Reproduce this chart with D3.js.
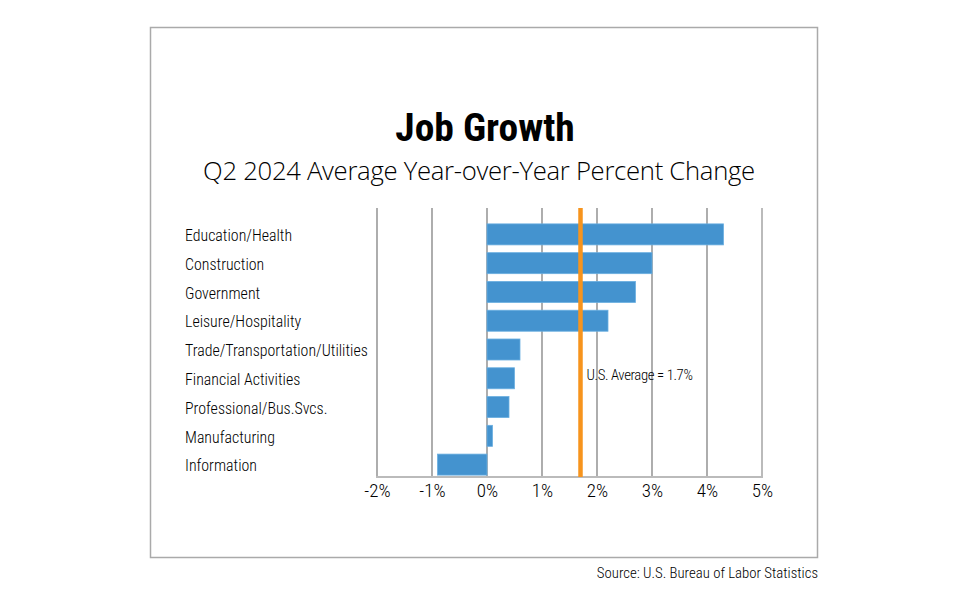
<!DOCTYPE html>
<html><head><meta charset="utf-8">
<script src="https://cdn.jsdelivr.net/npm/d3@7"></script>
<style>body{margin:0;background:#fff}svg{display:block}</style>
</head><body>
<svg id="c" width="967" height="599"></svg>
<script>
const categories = ["Education/Health","Construction","Government","Leisure/Hospitality","Trade/Transportation/Utilities","Financial Activities","Professional/Bus.Svcs.","Manufacturing","Information"];
const values = [4.3, 3.0, 2.7, 2.2, 0.6, 0.5, 0.4, 0.1, -0.9];
const tickValues = [-2, -1, 0, 1, 2, 3, 4, 5];
const usAverage = 1.7;
const title = "Job Growth";
const subtitle = "Q2 2024 Average Year-over-Year Percent Change";
const avgLabel = "U.S. Average = 1.7%";
const source = "Source: U.S. Bureau of Labor Statistics";

const narrow = "'Liberation Sans Narrow','Roboto Condensed','DejaVu Sans Condensed',sans-serif";
const svg = d3.select("#c");

svg.append("rect").attr("x",150.5).attr("y",27.5).attr("width",667).attr("height",530)
  .attr("fill","none").attr("stroke","#aaa").attr("stroke-width",1.5);

const x = d3.scaleLinear().domain([-2,5]).range([377,762]);
const y = d3.scaleBand().domain(categories).range([220,479]).paddingInner(0.27).paddingOuter(0.135);
const gridTop = 208, gridBottom = 477;

// gridlines
svg.append("g").selectAll("line").data(tickValues).join("line")
  .attr("x1",d=>x(d)).attr("x2",d=>x(d)).attr("y1",gridTop).attr("y2",gridBottom)
  .attr("stroke",d=>d===5?"#bbb":"#777").attr("stroke-width",d=>d===5?2:1.2);

// bars
svg.append("g").selectAll("rect").data(values).join("rect")
  .attr("x",d=>x(Math.min(0,d))).attr("width",d=>Math.abs(x(d)-x(0)))
  .attr("y",(d,i)=>y(categories[i])).attr("height",y.bandwidth())
  .attr("fill","#4493cf").attr("stroke","#6aaee0").attr("stroke-width",0.8);

// bottom axis line
svg.append("line").attr("x1",x(-2)-1).attr("x2",x(5)+1).attr("y1",gridBottom).attr("y2",gridBottom)
  .attr("stroke","#bbb").attr("stroke-width",2);

// axis labels
const xAxis = d3.axisBottom(x).tickValues(tickValues).tickSize(0).tickPadding(7).tickFormat(d=>d+"%");
const ax = svg.append("g").attr("transform",`translate(0,${gridBottom})`).call(xAxis);
ax.select(".domain").remove();
ax.selectAll("text").attr("font-family",narrow).attr("font-size",19).attr("font-weight",300).attr("fill","#000");

// average line
svg.append("line").attr("x1",x(usAverage)).attr("x2",x(usAverage)).attr("y1",gridTop).attr("y2",gridBottom)
  .attr("stroke","#f7941d").attr("stroke-width",4.5);
svg.append("text").attr("x",x(usAverage)+6).attr("y",380).attr("font-family",narrow)
  .attr("font-size",14.8).attr("font-weight",300).attr("letter-spacing",-0.4).attr("fill","#000").text(avgLabel);

// category labels
svg.append("g").selectAll("text").data(categories).join("text")
  .attr("x",185).attr("y",d=>y(d)+y.bandwidth()/2+1).attr("dy","0.36em")
  .attr("font-family",narrow).attr("font-size",15.9).attr("font-weight",300).attr("fill","#000").text(d=>d);

// titles
svg.append("text").attr("x",485).attr("y",141).attr("text-anchor","middle")
  .attr("font-family",narrow).attr("font-weight","bold").attr("font-size",39.5).attr("fill","#000").text(title);
svg.append("text").attr("x",479).attr("y",180).attr("text-anchor","middle")
  .attr("font-family","'Open Sans',sans-serif").attr("font-size",25.7).attr("font-weight",300).attr("letter-spacing",-0.3).attr("fill","#000").text(subtitle);

svg.append("text").attr("x",818).attr("y",578).attr("text-anchor","end")
  .attr("font-family",narrow).attr("font-size",14.8).attr("font-weight",300).attr("fill","#000").text(source);
</script>
</body></html>
